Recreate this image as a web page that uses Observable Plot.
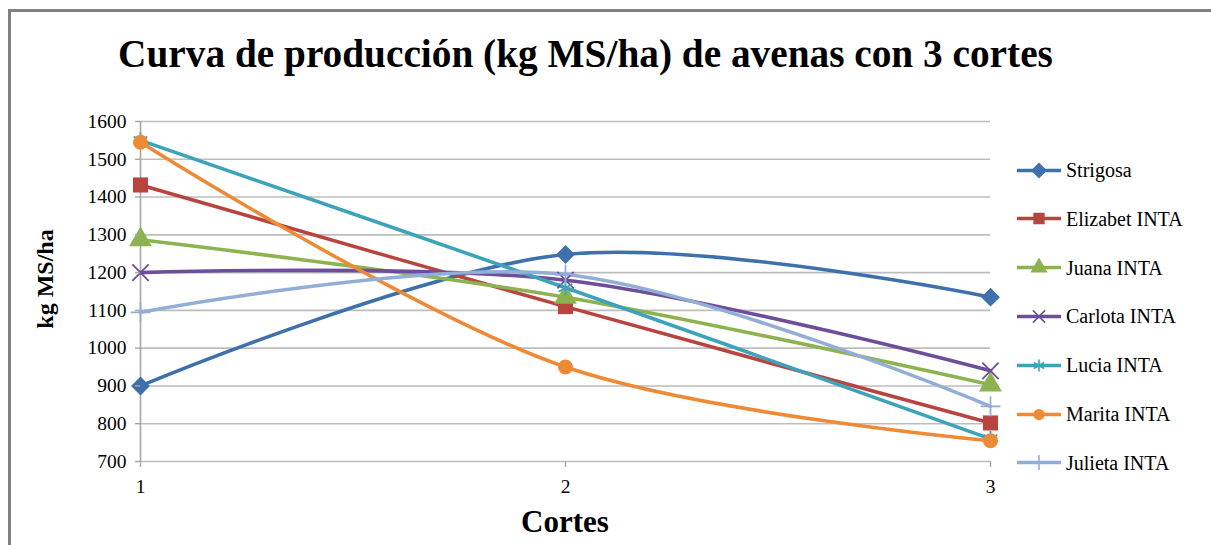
<!DOCTYPE html>
<html>
<head>
<meta charset="utf-8">
<script src="https://cdn.jsdelivr.net/npm/d3@7"></script>
<script src="https://cdn.jsdelivr.net/npm/@observablehq/plot@0.6"></script>
<style>
  html, body { margin: 0; padding: 0; background: #fff; overflow: hidden; }
  #wrap { position: relative; width: 1211px; height: 545px; overflow: hidden; font-family: "Liberation Serif", "Times New Roman", serif; }
  #frame { position: absolute; left: 8px; top: 9px; width: 1400px; height: 700px; border-left: 3px solid #808080; border-top: 3px solid #808080; box-sizing: border-box; }
  #title { position: absolute; left: 0; top: 31px; width: 1171px; text-align: center; font-weight: bold; font-size: 39.3px; color: #000; white-space: nowrap; }
  #ylab { position: absolute; left: 45px; top: 279px; transform: translate(-50%, -50%) rotate(-90deg); font-weight: bold; font-size: 24px; white-space: nowrap; }
  #xlab { position: absolute; left: 565px; top: 522px; transform: translate(-50%, -50%); font-weight: bold; font-size: 31px; white-space: nowrap; }
  #legend { position: absolute; left: 1016px; top: 0; }
  .leg { position: absolute; left: 0; display: flex; align-items: center; white-space: nowrap; font-size: 20px; transform: translateY(-50%); }
  .leg svg { display: block; margin-right: 4px; }
  #chart { position: absolute; left: 0; top: 0; }
</style>
</head>
<body>
<div id="wrap">
  <div id="frame"></div>
  <div id="chart"></div>
  <div id="title"></div>
  <div id="ylab"></div>
  <div id="xlab"></div>
  <div id="legend"></div>
</div>
<script>
const titleText = "Curva de producción (kg MS/ha) de avenas con 3 cortes";
const yLabel = "kg MS/ha";
const xLabel = "Cortes";
const cortes = [1, 2, 3];
const yTicks = [700, 800, 900, 1000, 1100, 1200, 1300, 1400, 1500, 1600];
const seriesNames = ["Strigosa", "Elizabet INTA", "Juana INTA", "Carlota INTA", "Lucia INTA", "Marita INTA", "Julieta INTA"];
const strigosa = [900, 1248, 1135];
const elizabet = [1432, 1110, 802];
const juana = [1287, 1135, 903];
const carlota = [1200, 1180, 940];
const lucia = [1550, 1160, 760];
const marita = [1545, 950, 755];
const julieta = [1095, 1195, 846];
const seriesValues = [strigosa, elizabet, juana, carlota, lucia, marita, julieta];
const colors = ["#3E70AC", "#B8433F", "#8CB350", "#6E4E9A", "#3DA3BA", "#EE8A36", "#93AED6"];
const symbols = ["diamond2", "square", "triangle", "times", "asterisk", "circle", "plus"];
const filled = [true, true, true, false, false, true, false];
const symR = [8.5, 8.5, 8.5, 7.5, 7.5, 7.5, 6.5];

document.getElementById("title").textContent = titleText;
document.getElementById("ylab").textContent = yLabel;
document.getElementById("xlab").textContent = xLabel;

const rows = [];
seriesNames.forEach((name, i) => cortes.forEach((c, j) => rows.push({corte: c, value: seriesValues[i][j], name, idx: i})));

const marks = [
  Plot.ruleY(yTicks, {stroke: "#BDBDBD", strokeWidth: 1.6}),
  Plot.ruleX([1], {stroke: "#A6A6A6", strokeWidth: 1.6})
];
seriesNames.forEach((name, i) => {
  marks.push(Plot.line(rows.filter(r => r.idx === i), {x: "corte", y: "value", stroke: colors[i], strokeWidth: 3.6, curve: "catmull-rom"}));
});
seriesNames.forEach((name, i) => {
  marks.push(Plot.dot(rows.filter(r => r.idx === i), {
    x: "corte", y: "value", symbol: () => symbols[i], r: symR[i],
    fill: filled[i] ? colors[i] : "none", stroke: colors[i], strokeWidth: filled[i] ? 0 : 1.8
  }));
});

const plot = Plot.plot({
  width: 1211, height: 545,
  marginLeft: 140, marginRight: 221, marginTop: 121, marginBottom: 84,
  style: {fontFamily: "'Liberation Serif', 'Times New Roman', serif", fontSize: "19.5px", background: "transparent", color: "#000"},
  x: {type: "linear", domain: [1, 3]},
  y: {type: "linear", domain: [700, 1600]},
  symbol: {type: "identity"},
  marks: [
    ...marks,
    Plot.axisX({ticks: cortes, tickFormat: d => String(d), tickSize: 6, tickPadding: 12, stroke: "#A6A6A6", strokeWidth: 1.4, label: null, fontSize: 19.5}),
    Plot.axisY({ticks: yTicks, tickFormat: d => String(d), tickSize: 5, tickPadding: 9, stroke: "#A6A6A6", strokeWidth: 1.4, label: null, fontSize: 19.5})
  ]
});
plot.querySelectorAll("text").forEach(t => t.style.fill = "#000");
document.getElementById("chart").appendChild(plot);

// legend
const legend = document.getElementById("legend");
const legY0 = 170, legStep = 48.8;
const d3sym = {diamond2: d3.symbolSquare, square: d3.symbolSquare, triangle: d3.symbolTriangle, times: d3.symbolTimes, asterisk: d3.symbolAsterisk, circle: d3.symbolCircle, plus: d3.symbolPlus};
seriesNames.forEach((name, i) => {
  const div = document.createElement("div");
  div.className = "leg";
  div.style.top = (legY0 + i * legStep) + "px";
  const svg = d3.create("svg").attr("width", 46).attr("height", 20);
  svg.append("line").attr("x1", 1).attr("x2", 45).attr("y1", 10).attr("y2", 10)
    .attr("stroke", colors[i]).attr("stroke-width", 3.6);
  const rr = symR[i] * 0.75;
  const p = d3.symbol(d3sym[symbols[i]], Math.PI * rr * rr)();
  svg.append("path").attr("d", p)
    .attr("transform", `translate(23,10)${symbols[i] === "diamond2" ? " rotate(45)" : ""}`)
    .attr("fill", filled[i] ? colors[i] : "none")
    .attr("stroke", filled[i] ? "none" : colors[i])
    .attr("stroke-width", 1.6);
  div.appendChild(svg.node());
  const span = document.createElement("span");
  span.textContent = name;
  div.appendChild(span);
  legend.appendChild(div);
});
</script>
</body>
</html>
